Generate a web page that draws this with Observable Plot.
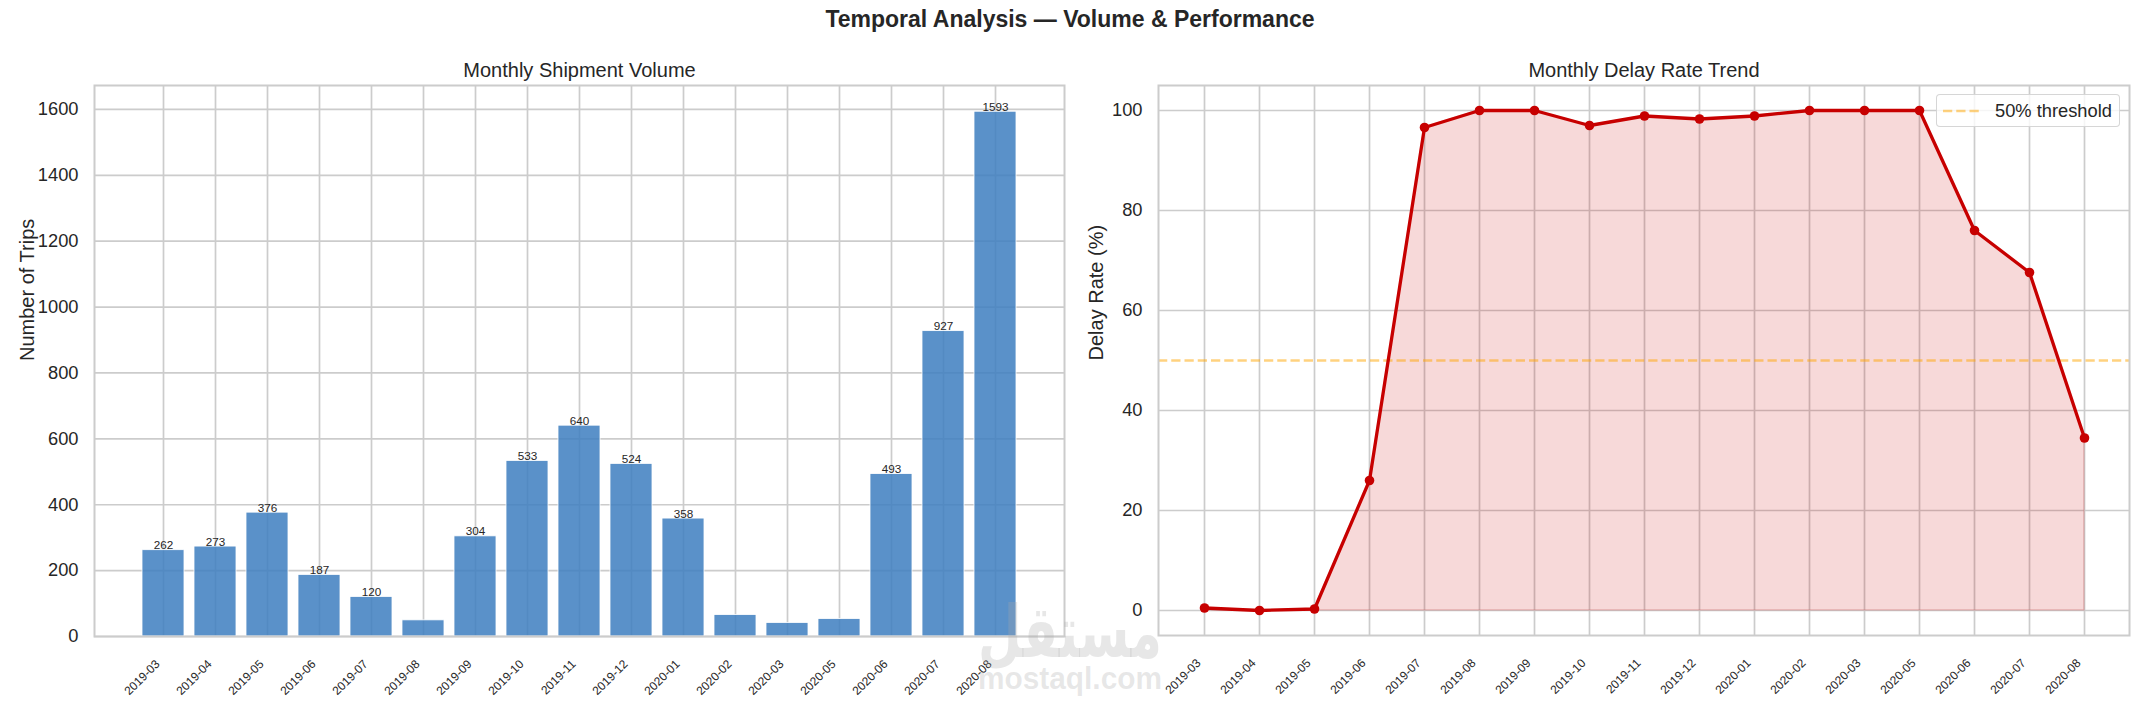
<!DOCTYPE html>
<html>
<head>
<meta charset="utf-8">
<script src="https://cdn.jsdelivr.net/npm/d3@7"></script>
<script src="https://cdn.jsdelivr.net/npm/@observablehq/plot@0.6"></script>
<style>
  html, body { margin: 0; padding: 0; background: #fff; }
  #fig { position: relative; width: 2140px; height: 707px; background: #fff; overflow: hidden;
         font-family: "Liberation Sans", Arial, sans-serif; color: #262626; }
  #title { position: absolute; left: 0; top: 8px; width: 2140px; text-align: center;
           font-size: 23px; line-height: 23px; font-weight: bold; color: #262626; }
  .panel { position: absolute; top: 0; }
  #left { left: 0; width: 1100px; }
  #right { left: 1100px; width: 1040px; }
  #legend { position: absolute; left: 1936px; top: 94px; width: 184px; height: 33px; box-sizing: border-box;
            border: 1.5px solid rgba(204,204,204,0.8); border-radius: 4px; background: rgba(255,255,255,0.8);
            display: flex; align-items: center; padding-left: 6px; font-size: 18.3px; color: #262626; }
  #legend svg { margin-right: 15px; }
  #wm { position: absolute; left: 0; top: 0; pointer-events: none; }
</style>
</head>
<body>
<div id="fig">
  <div id="title">Temporal Analysis — Volume &amp; Performance</div>
  <div id="left" class="panel"></div>
  <div id="right" class="panel"></div>
  <div id="legend"><svg width="37" height="6"><line x1="0" x2="37" y1="3" y2="3" stroke="orange" stroke-opacity="0.5" stroke-width="2.5" stroke-dasharray="9.25,4"></line></svg><span id="legendText"></span></div>
  <svg id="wm" width="2140" height="707">
    <text x="1070" y="657" text-anchor="middle" font-family="DejaVu Sans" font-weight="bold" font-size="72" textLength="184" lengthAdjust="spacingAndGlyphs" fill="#aaaaaa" fill-opacity="0.28">مستقل</text>
    <text x="1070" y="689" text-anchor="middle" font-family="Liberation Sans, Arial, sans-serif" font-weight="bold" font-size="32" textLength="184" lengthAdjust="spacingAndGlyphs" fill="#aaaaaa" fill-opacity="0.28">mostaql.com</text>
  </svg>
</div>
<script>
// ---- data ----
const months = ["2019-03","2019-04","2019-05","2019-06","2019-07","2019-08","2019-09","2019-10","2019-11","2019-12","2020-01","2020-02","2020-03","2020-05","2020-06","2020-07","2020-08"];
const trips = [262, 273, 376, 187, 120, 49, 304, 533, 640, 524, 358, 65, 41, 53, 493, 927, 1593];
const delayRate = [0.5, 0, 0.3, 26.0, 96.6, 100, 100, 97.0, 98.9, 98.3, 98.9, 100, 100, 100, 76.0, 67.6, 34.5];
const tripTicks = [0, 200, 400, 600, 800, 1000, 1200, 1400, 1600];
const delayTicks = [0, 20, 40, 60, 80, 100];
const thresholdValues = [50];
const thresholdLabel = "50% threshold";
const leftTitle = "Monthly Shipment Volume";
const rightTitle = "Monthly Delay Rate Trend";
const leftYLabel = "Number of Trips";
const rightYLabel = "Delay Rate (%)";

document.getElementById("legendText").textContent = thresholdLabel;

const volume = months.map((m, i) => ({month: m, trips: trips[i]}));
const delay = months.map((m, i) => ({month: m, rate: delayRate[i]}));

const TXT = "#262626", GRID = "#cccccc", BAR = "#3d7ebf", RED = "#c70000";
const FONT = "Liberation Sans, Arial, sans-serif";
const gridW = 1.7;
const xTickSize = 12;

// ---- left: bar chart ----
const left = Plot.plot({
  width: 1100, height: 707,
  marginLeft: 94, marginRight: 36, marginTop: 85, marginBottom: 71,
  style: {fontFamily: FONT, color: TXT, background: "transparent", overflow: "visible"},
  x: {type: "band", domain: months, paddingInner: 0.2, paddingOuter: 0.84, align: 0.5, axis: null},
  y: {domain: [0, d3.max(trips) * 1.05], axis: null},
  marks: [
    Plot.gridX(months, {stroke: GRID, strokeOpacity: 1, strokeWidth: gridW}),
    Plot.gridY(tripTicks, {stroke: GRID, strokeOpacity: 1, strokeWidth: gridW}),
    Plot.barY(volume, {x: "month", y: "trips", fill: BAR, fillOpacity: 0.85, stroke: "white", strokeWidth: 0.8}),
    Plot.text(volume.filter(d => d.trips > 100), {x: "month", y: "trips", text: d => String(d.trips),
      lineAnchor: "bottom", dy: -1, fontSize: 11.7, fill: TXT}),
    Plot.axisY({ticks: tripTicks, tickFormat: d => String(d), tickSize: 0, tickPadding: 16, fontSize: 18.3, label: null, fill: TXT}),
    Plot.text([leftYLabel], {text: d => d, frameAnchor: "left", rotate: -90, dx: -67, fontSize: 20, fill: TXT}),
    Plot.text(months, {x: d => d, text: d => d, frameAnchor: "bottom", rotate: -45, textAnchor: "end",
      lineAnchor: "middle", dx: -5.8, dy: 25.5, fontSize: xTickSize, fill: TXT}),
    Plot.text([leftTitle], {text: d => d, frameAnchor: "top", lineAnchor: "bottom", dy: -9, fontSize: 20, fill: TXT}),
    Plot.frame({stroke: GRID, strokeWidth: 2})
  ]
});
document.getElementById("left").appendChild(left);

// ---- right: line chart ----
const rMin = d3.min(delayRate), rMax = d3.max(delayRate), rPad = (rMax - rMin) * 0.05;
const right = Plot.plot({
  width: 1040, height: 707,
  marginLeft: 58, marginRight: 11, marginTop: 85, marginBottom: 72,
  style: {fontFamily: FONT, color: TXT, background: "transparent", overflow: "visible"},
  x: {type: "point", domain: months, padding: 0.8, align: 0.5, axis: null},
  y: {domain: [rMin - rPad, rMax + rPad], axis: null},
  marks: [
    Plot.gridX(months, {stroke: GRID, strokeOpacity: 1, strokeWidth: gridW}),
    Plot.gridY(delayTicks, {stroke: GRID, strokeOpacity: 1, strokeWidth: gridW}),
    Plot.areaY(delay, {x: "month", y1: 0, y2: "rate", fill: RED, fillOpacity: 0.15, stroke: RED, strokeOpacity: 0.15, strokeWidth: 1.5}),
    Plot.ruleY(thresholdValues, {stroke: "orange", strokeOpacity: 0.5, strokeWidth: 2.5, strokeDasharray: "9.25,4"}),
    Plot.lineY(delay, {x: "month", y: "rate", stroke: RED, strokeWidth: 3.3}),
    Plot.dot(delay, {x: "month", y: "rate", r: 4.8, fill: RED}),
    Plot.axisY({ticks: delayTicks, tickFormat: d => String(d), tickSize: 0, tickPadding: 16, fontSize: 18.3, label: null, fill: TXT}),
    Plot.text([rightYLabel], {text: d => d, frameAnchor: "left", rotate: -90, dx: -62, fontSize: 20, fill: TXT}),
    Plot.text(months, {x: d => d, text: d => d, frameAnchor: "bottom", rotate: -45, textAnchor: "end",
      lineAnchor: "middle", dx: -5.8, dy: 25.5, fontSize: xTickSize, fill: TXT}),
    Plot.text([rightTitle], {text: d => d, frameAnchor: "top", lineAnchor: "bottom", dy: -9, fontSize: 20, fill: TXT}),
    Plot.frame({stroke: GRID, strokeWidth: 2})
  ]
});
document.getElementById("right").appendChild(right);
</script>
</body>
</html>
